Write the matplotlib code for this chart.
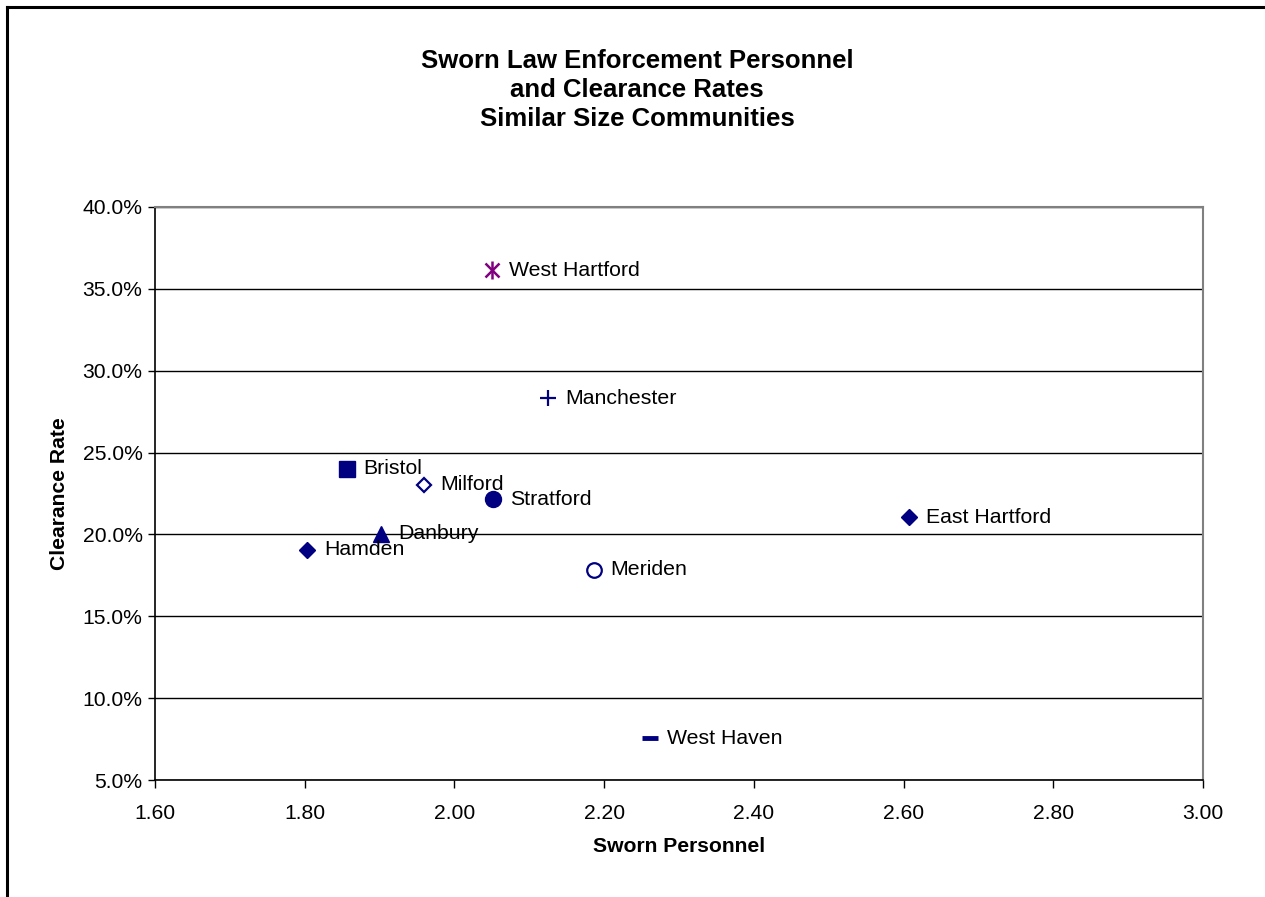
import matplotlib.pyplot as plt
from matplotlib.lines import Line2D
from matplotlib.ticker import FuncFormatter, MultipleLocator

plt.rcParams['font.family'] = ['Liberation Sans', 'DejaVu Sans']

# data
towns = ['West Hartford', 'Manchester', 'Bristol', 'Milford', 'Stratford',
         'Danbury', 'Hamden', 'Meriden', 'East Hartford', 'West Haven']
sworn = [2.05, 2.125, 1.856, 1.959, 2.051, 1.902, 1.803, 2.186, 2.607, 2.261]
clearance = [0.3615, 0.2833, 0.240, 0.2302, 0.2216, 0.2005, 0.1905, 0.1783, 0.2106, 0.0756]

navy = '#000080'
purple = '#800080'

# marker style per town (Excel-like)
styles = {
    'West Hartford': None,
    'Manchester': dict(marker='+', ms=11, mew=1.6, color=navy),
    'Bristol': dict(marker='s', ms=11, color=navy),
    'Milford': dict(marker='D', ms=7.5, mfc='white', mec=navy, mew=1.6),
    'Stratford': dict(marker='o', ms=11.5, color=navy),
    'Danbury': dict(marker='^', ms=11.5, color=navy),
    'Hamden': dict(marker='D', ms=8, color=navy),
    'Meriden': dict(marker='o', ms=10.5, mfc='white', mec=navy, mew=1.6),
    'East Hartford': dict(marker='D', ms=8, color=navy),
    'West Haven': dict(marker='_', ms=12, mew=3.5, color=navy),
}

fig = plt.figure(figsize=(12.65, 8.97), dpi=100)
ax = fig.add_axes([155 / 1265, 1 - 780 / 897, (1203 - 155) / 1265, (780 - 207) / 897])

for name, x, y in zip(towns, sworn, clearance):
    st = styles[name]
    if st is None:
        # asterisk = x + vertical bar
        ax.plot([x], [y], marker='x', ms=10, mew=1.8, color=purple, ls='none')
        ax.plot([x], [y], marker='|', ms=12.5, mew=1.8, color=purple, ls='none')
    else:
        ax.plot([x], [y], ls='none', **st)
    ax.annotate(name, (x, y), xytext=(17, 0), textcoords='offset pixels',
                ha='left', va='center', fontsize=15.3, color='black')

ax.set_xlim(1.6, 3.0)
ax.set_ylim(0.05, 0.40)
ax.xaxis.set_major_locator(MultipleLocator(0.2))
ax.yaxis.set_major_locator(MultipleLocator(0.05))
ax.xaxis.set_major_formatter(FuncFormatter(lambda v, p: f'{v:.2f}'))
ax.yaxis.set_major_formatter(FuncFormatter(lambda v, p: f'{v * 100:.1f}%'))
ax.tick_params(labelsize=15.2, direction='out', length=5, width=1, pad=4)
ax.tick_params(axis='x', length=6, pad=11)

ax.grid(axis='y', color='black', lw=1)
ax.set_axisbelow(True)
for side in ('top', 'right'):
    ax.spines[side].set_color('#808080')
    ax.spines[side].set_linewidth(1.5)
for side in ('left', 'bottom'):
    ax.spines[side].set_color('black')
    ax.spines[side].set_linewidth(1.2)

ax.set_xlabel('Sworn Personnel', fontsize=15.2, fontweight='bold', labelpad=10)
ax.set_ylabel('Clearance Rate', fontsize=15.2, fontweight='bold', labelpad=10)

fig.text(637 / 1265, 1 - 90 / 897,
         'Sworn Law Enforcement Personnel\nand Clearance Rates\nSimilar Size Communities',
         ha='center', va='center', fontsize=18.5, fontweight='bold', linespacing=1.25)

# outer chart frame (only left and top edges are visible)
fig.add_artist(Line2D([7.5 / 1265, 7.5 / 1265], [0, 1 - 7.5 / 897],
                      transform=fig.transFigure, color='black', lw=2.2))
fig.add_artist(Line2D([7.5 / 1265, 1], [1 - 7.5 / 897, 1 - 7.5 / 897],
                      transform=fig.transFigure, color='black', lw=2.2))

fig.savefig('out.png', dpi=100)
